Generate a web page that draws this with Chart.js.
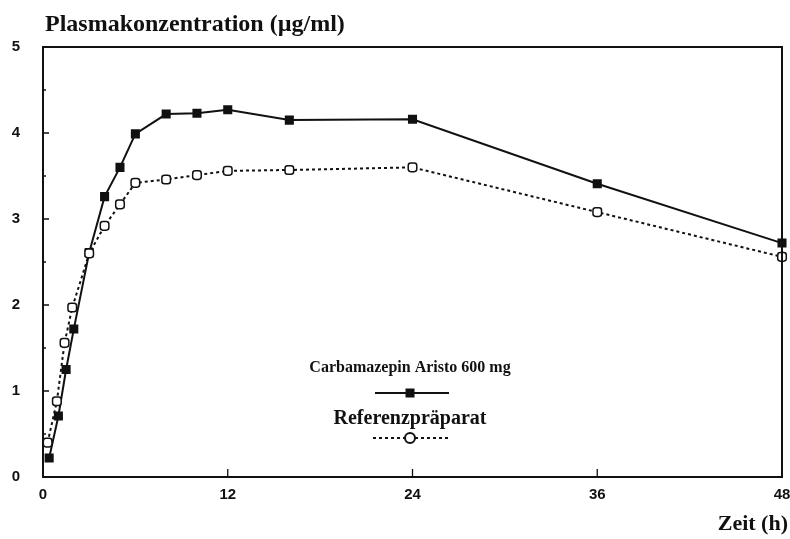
<!DOCTYPE html>
<html>
<head>
<meta charset="utf-8">
<script src="https://cdn.jsdelivr.net/npm/chart.js@4.4.1/dist/chart.umd.min.js"></script>
<style>
  html, body { margin: 0; padding: 0; background: #fff; }
  #wrap { position: relative; width: 790px; height: 539px; }
</style>
</head>
<body>
<div id="wrap"><canvas id="plasmaChart" width="790" height="539"></canvas></div>
<script>
// Zeitpunkte (h) und Konzentrationen (µg/ml)
const timesAristo = [0.4, 1, 1.5, 2, 3, 4, 5, 6, 8, 10, 12, 16, 24, 36, 48];
const concAristo  = [0.22, 0.71, 1.25, 1.72, 2.61, 3.26, 3.6, 3.99, 4.22, 4.23, 4.27, 4.15, 4.16, 3.41, 2.72];

const timesRef = [0.3, 0.9, 1.4, 1.9, 3, 4, 5, 6, 8, 10, 12, 16, 24, 36, 48];
const concRef  = [0.4, 0.88, 1.56, 1.97, 2.6, 2.92, 3.17, 3.42, 3.46, 3.51, 3.56, 3.57, 3.6, 3.08, 2.56];

const xTicks = [0, 12, 24, 36, 48];
const yTicks = [0, 1, 2, 3, 4, 5];

const labelAristo = 'Carbamazepin Aristo 600 mg';
const labelRef = 'Referenzpräparat';
const yTitle = 'Plasmakonzentration (µg/ml)';
const xTitle = 'Zeit (h)';

const toPoints = (xs, ys) => xs.map((x, i) => ({ x: x, y: ys[i] }));

// Rahmen, Ticks nach innen, Beschriftungen und Legende
const decorPlugin = {
    id: 'decor',
    afterDraw(chart) {
        const ctx = chart.ctx;
        const a = chart.chartArea;
        const xs = chart.scales.x;
        const ys = chart.scales.y;
        ctx.save();
        ctx.strokeStyle = '#111';
        ctx.lineWidth = 2;
        ctx.strokeRect(a.left, a.top, a.right - a.left, a.bottom - a.top);

        ctx.lineWidth = 1.3;
        ctx.beginPath();
        xTicks.slice(1, -1).forEach(v => {
            const px = xs.getPixelForValue(v);
            ctx.moveTo(px, a.bottom);
            ctx.lineTo(px, a.bottom - 8);
        });
        for (let v = 0.5; v < 5; v += 0.5) {
            const py = ys.getPixelForValue(v);
            const len = Number.isInteger(v) ? 6 : 3;
            ctx.moveTo(a.left, py);
            ctx.lineTo(a.left + len, py);
        }
        ctx.stroke();

        ctx.fillStyle = '#111';
        ctx.textBaseline = 'alphabetic';
        ctx.font = 'bold 24px "Liberation Serif", "DejaVu Serif", serif';
        ctx.textAlign = 'left';
        ctx.fillText(yTitle, 45, 31);
        ctx.font = 'bold 22px "Liberation Serif", "DejaVu Serif", serif';
        ctx.textAlign = 'right';
        ctx.fillText(xTitle, 788, 530);

        // Legende
        const cx = 410;
        ctx.textAlign = 'center';
        ctx.font = 'bold 16px "Liberation Serif", "DejaVu Serif", serif';
        ctx.fillText(labelAristo, cx, 372);
        ctx.lineWidth = 2;
        ctx.beginPath();
        ctx.moveTo(375, 393);
        ctx.lineTo(449, 393);
        ctx.stroke();
        ctx.fillRect(cx - 4.5, 393 - 4.5, 9, 9);

        ctx.font = 'bold 20px "Liberation Serif", "DejaVu Serif", serif';
        ctx.fillText(labelRef, cx, 424);
        ctx.setLineDash([3, 3]);
        ctx.beginPath();
        ctx.moveTo(373, 438);
        ctx.lineTo(450, 438);
        ctx.stroke();
        ctx.setLineDash([]);
        ctx.fillStyle = '#fff';
        ctx.beginPath();
        ctx.arc(cx, 438, 5, 0, Math.PI * 2);
        ctx.fill();
        ctx.stroke();
        ctx.restore();
    }
};

const ctx = document.getElementById('plasmaChart');
new Chart(ctx, {
    type: 'scatter',
    data: {
        datasets: [
            {
                label: labelRef,
                data: toPoints(timesRef, concRef),
                showLine: true,
                borderColor: '#111',
                borderWidth: 2,
                borderDash: [3, 3],
                pointStyle: 'rectRounded',
                pointRadius: 5,
                pointBorderWidth: 1.5,
                pointBackgroundColor: '#fff',
                pointBorderColor: '#111',
                clip: false
            },
            {
                label: labelAristo,
                data: toPoints(timesAristo, concAristo),
                showLine: true,
                borderColor: '#111',
                borderWidth: 2,
                pointStyle: 'rect',
                pointRadius: 5,
                pointBackgroundColor: '#111',
                pointBorderColor: '#111',
                clip: false
            }
        ]
    },
    options: {
        responsive: false,
        animation: false,
        layout: { padding: { top: 47, right: 8, left: 0, bottom: 0 } },
        plugins: {
            legend: { display: false },
            tooltip: { enabled: false }
        },
        scales: {
            x: {
                type: 'linear',
                min: 0,
                max: 48,
                afterBuildTicks: s => { s.ticks = xTicks.map(v => ({ value: v })); },
                afterFit: s => { s.height = 62; s.paddingLeft = 0; s.paddingRight = 0; },
                grid: { display: false, drawTicks: false },
                border: { display: false },
                ticks: {
                    padding: 9,
                    color: '#111',
                    maxRotation: 0,
                    font: { family: '"Liberation Sans", Arial, sans-serif', size: 15, weight: 'bold' }
                }
            },
            y: {
                min: 0,
                max: 5,
                afterBuildTicks: s => { s.ticks = yTicks.map(v => ({ value: v })); },
                afterFit: s => { s.width = 43; s.paddingTop = 0; s.paddingBottom = 0; },
                grid: { display: false, drawTicks: false },
                border: { display: false },
                ticks: {
                    padding: 23,
                    color: '#111',
                    font: { family: '"Liberation Sans", Arial, sans-serif', size: 15, weight: 'bold' }
                }
            }
        }
    },
    plugins: [decorPlugin]
});
</script>
</body>
</html>
